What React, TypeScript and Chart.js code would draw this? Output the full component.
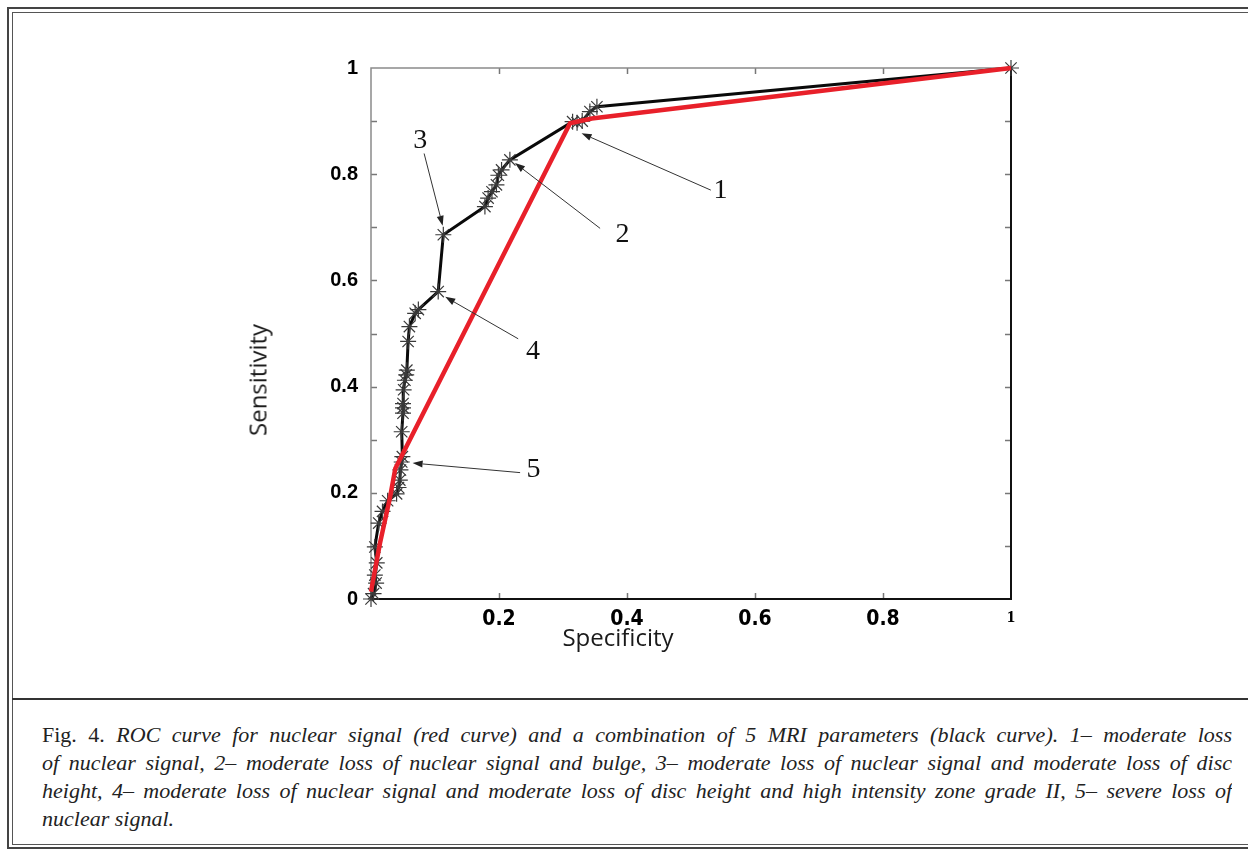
import React, { useEffect, useRef } from 'react';
import { Chart, registerables } from 'chart.js';

Chart.register(...registerables);

// ---- data ----
const BLACK_X = [0.0, 0.004, 0.008, 0.006, 0.009, 0.006, 0.012, 0.018, 0.026, 0.040, 0.043, 0.045, 0.046, 0.048, 0.049, 0.048, 0.050, 0.050, 0.050, 0.051, 0.053, 0.055, 0.056, 0.058, 0.060, 0.069, 0.074, 0.105, 0.113, 0.178, 0.183, 0.189, 0.196, 0.199, 0.204, 0.217, 0.315, 0.322, 0.330, 0.342, 0.353, 1.0];
const BLACK_Y = [0.0, 0.010, 0.030, 0.045, 0.068, 0.098, 0.143, 0.165, 0.185, 0.198, 0.210, 0.224, 0.243, 0.258, 0.268, 0.315, 0.350, 0.360, 0.368, 0.394, 0.412, 0.422, 0.431, 0.485, 0.513, 0.538, 0.545, 0.579, 0.686, 0.739, 0.755, 0.767, 0.780, 0.798, 0.808, 0.827, 0.899, 0.897, 0.900, 0.918, 0.927, 1.0];

const RED_X = [0.0, 0.014, 0.030, 0.038, 0.311, 0.345, 1.0];
const RED_Y = [0.014, 0.105, 0.193, 0.246, 0.896, 0.905, 1.0];

const X_TICK_VALUES = [0.2, 0.4, 0.6, 0.8, 1];
const X_TICK_LABELS = ['0.2', '0.4', '0.6', '0.8', '1'];
const Y_TICK_VALUES = [0, 0.2, 0.4, 0.6, 0.8, 1];
const Y_TICK_LABELS = ['0', '0.2', '0.4', '0.6', '0.8', '1'];

const ANNOT_LABELS = ['1', '2', '3', '4', '5'];
const ANNOT_TEXT_X = [0.546, 0.393, 0.077, 0.253, 0.254];
const ANNOT_TEXT_Y = [0.769, 0.686, 0.863, 0.466, 0.243];
const ANNOT_FROM_X = [0.531, 0.358, 0.083, 0.230, 0.233];
const ANNOT_FROM_Y = [0.770, 0.698, 0.839, 0.490, 0.238];
const ANNOT_TIP_X = [0.329, 0.225, 0.112, 0.116, 0.065];
const ANNOT_TIP_Y = [0.877, 0.821, 0.703, 0.569, 0.256];

const CAPTION_LINES = [
  'ROC curve for nuclear signal (red curve) and a combination of 5 MRI parameters (black curve). 1– moderate loss',
  'of nuclear signal, 2– moderate loss of nuclear signal and bulge, 3– moderate loss of nuclear signal and moderate loss of disc',
  'height, 4– moderate loss of nuclear signal and moderate loss of disc height and high intensity zone grade II, 5– severe loss of',
  'nuclear signal.',
];

const findLabel = (vals: number[], labels: string[], v: number) => {
  for (let i = 0; i < vals.length; i++) if (Math.abs(vals[i] - v) < 1e-6) return labels[i];
  return '';
};

const framePlugin = {
  id: 'frame',
  beforeDatasetsDraw(chart: any) {
    const { ctx, chartArea: a, scales } = chart;
    const xs = scales.x;
    const ys = scales.y;
    ctx.save();
    ctx.strokeStyle = '#777';
    ctx.lineWidth = 1.5;
    ys.ticks.forEach((t: any) => {
      const py = Math.round(ys.getPixelForValue(t.value)) + 0.5;
      if (t.value <= 0 || t.value >= 1) return;
      ctx.beginPath();
      ctx.moveTo(a.left, py); ctx.lineTo(a.left + 6, py);
      ctx.moveTo(a.right, py); ctx.lineTo(a.right - 6, py);
      ctx.stroke();
    });
    xs.ticks.forEach((t: any) => {
      if (t.value <= 0 || t.value >= 1) return;
      const px = Math.round(xs.getPixelForValue(t.value)) + 0.5;
      ctx.beginPath();
      ctx.moveTo(px, a.bottom); ctx.lineTo(px, a.bottom - 6);
      ctx.moveTo(px, a.top); ctx.lineTo(px, a.top + 6);
      ctx.stroke();
    });
    // frame
    ctx.strokeStyle = '#8a8a8a';
    ctx.lineWidth = 1.5;
    ctx.beginPath();
    ctx.moveTo(a.left, a.bottom); ctx.lineTo(a.left, a.top); ctx.lineTo(a.right, a.top);
    ctx.stroke();
    ctx.strokeStyle = '#111';
    ctx.lineWidth = 2;
    ctx.beginPath();
    ctx.moveTo(a.left, a.bottom); ctx.lineTo(a.right, a.bottom); ctx.lineTo(a.right, a.top);
    ctx.stroke();
    ctx.restore();
  },
  afterDatasetsDraw(chart: any) {
    const { ctx, scales } = chart;
    const xs = scales.x;
    const ys = scales.y;
    ctx.save();
    for (let i = 0; i < ANNOT_LABELS.length; i++) {
      const fx = xs.getPixelForValue(ANNOT_FROM_X[i]);
      const fy = ys.getPixelForValue(ANNOT_FROM_Y[i]);
      const tx = xs.getPixelForValue(ANNOT_TIP_X[i]);
      const ty = ys.getPixelForValue(ANNOT_TIP_Y[i]);
      const ang = Math.atan2(ty - fy, tx - fx);
      const hl = 10, hw = 3.5;
      const bx = tx - hl * Math.cos(ang);
      const by = ty - hl * Math.sin(ang);
      ctx.strokeStyle = '#333';
      ctx.fillStyle = '#222';
      ctx.lineWidth = 1;
      ctx.beginPath();
      ctx.moveTo(fx, fy); ctx.lineTo(bx, by);
      ctx.stroke();
      ctx.beginPath();
      ctx.moveTo(tx, ty);
      ctx.lineTo(bx + hw * Math.sin(ang), by - hw * Math.cos(ang));
      ctx.lineTo(bx - hw * Math.sin(ang), by + hw * Math.cos(ang));
      ctx.closePath();
      ctx.fill();
      ctx.font = '28px "Liberation Serif", "Times New Roman", serif';
      ctx.fillStyle = '#111';
      ctx.textAlign = 'center';
      ctx.textBaseline = 'middle';
      ctx.fillText(ANNOT_LABELS[i], xs.getPixelForValue(ANNOT_TEXT_X[i]), ys.getPixelForValue(ANNOT_TEXT_Y[i]));
    }
    ctx.restore();
  },
};

function RocChart() {
  const ref = useRef<HTMLCanvasElement | null>(null);
  useEffect(() => {
    if (!ref.current) return;
    const chart = new Chart(ref.current, {
      type: 'scatter',
      data: {
        datasets: [
          {
            label: 'Nuclear signal',
            data: RED_X.map((x, i) => ({ x, y: RED_Y[i] })),
            showLine: true,
            borderColor: '#e8202a',
            borderWidth: 4.5,
            pointRadius: 0,
            clip: false,
          } as any,
          {
            label: '5 MRI parameters',
            data: BLACK_X.map((x, i) => ({ x, y: BLACK_Y[i] })),
            showLine: true,
            borderColor: '#0a0a0a',
            borderWidth: 3,
            pointStyle: 'star',
            pointRadius: 8,
            pointBorderWidth: 1.2,
            pointBorderColor: '#3a3a3a',
            pointBackgroundColor: '#3a3a3a',
            clip: false,
          } as any,
        ],
      },
      options: {
        animation: false,
        responsive: false,
        devicePixelRatio: 1,
        layout: { padding: { left: 200, right: 237, top: 68, bottom: 41 } },
        plugins: { legend: { display: false }, tooltip: { enabled: false } },
        scales: {
          x: {
            type: 'linear',
            min: 0,
            max: 1,
            grid: { display: false },
            border: { display: false },
            afterFit: (s: any) => { s.height = 60; },
            ticks: {
              stepSize: 0.2,
              padding: 0,
              maxRotation: 0,
              color: '#000',
              autoSkip: false,
              callback: (v: any) => findLabel(X_TICK_VALUES, X_TICK_LABELS, Number(v)),
              font: (c: any) =>
                c.tick && Math.abs(c.tick.value - 1) < 1e-6
                  ? { family: '"Liberation Serif", serif', size: 17, weight: 'bold' }
                  : { family: '"Liberation Sans Narrow", "DejaVu Sans Condensed", "Liberation Sans", sans-serif', size: 21, weight: 'bold' },
            },
          },
          y: {
            type: 'linear',
            min: 0,
            max: 1,
            grid: { display: false },
            border: { display: false },
            afterFit: (s: any) => { s.width = 171; },
            ticks: {
              stepSize: 0.1,
              padding: 5,
              color: '#000',
              autoSkip: false,
              callback: (v: any) => findLabel(Y_TICK_VALUES, Y_TICK_LABELS, Number(v)),
              font: { family: '"Liberation Sans", Arial, sans-serif', size: 20, weight: 'bold' },
            },
          },
        },
      } as any,
      plugins: [framePlugin],
    });
    return () => chart.destroy();
  }, []);
  return <canvas ref={ref} width={1248} height={700} style={{ position: 'absolute', left: 0, top: 0, width: 1248, height: 700 }} />;
}

export default function App() {
  const lineStyle: React.CSSProperties = {
    textAlign: 'justify',
    textAlignLast: 'justify' as any,
    whiteSpace: 'normal',
    height: 28,
    lineHeight: '28px',
    overflow: 'hidden',
  };
  return (
    <div style={{ position: 'fixed', left: 0, top: 0, width: 1248, height: 849, background: '#fff', overflow: 'hidden' }}>
      {/* outer and inner frames */}
      <div style={{ position: 'absolute', left: 7, top: 7, width: 1400, height: 838, border: '2px solid #444' }} />
      <div style={{ position: 'absolute', left: 12, top: 12, width: 1400, height: 831, border: '1px solid #555' }} />
      <div style={{ position: 'absolute', left: 12, top: 698, width: 1400, height: 0, borderTop: '2.5px solid #333' }} />
      <RocChart />
      <div style={{ position: 'absolute', left: 257, top: 380, transform: 'translate(-50%, -50%) rotate(-90deg)', fontFamily: '"Open Sans", sans-serif', fontSize: 24, color: '#1a1a1a', whiteSpace: 'nowrap' }}>Sensitivity</div>
      <div style={{ position: 'absolute', left: 618, top: 636, transform: 'translate(-50%, -50%)', fontFamily: '"Open Sans", sans-serif', fontSize: 24, color: '#1a1a1a', whiteSpace: 'nowrap' }}>Specificity</div>
      <div style={{ position: 'absolute', left: 42, top: 721, width: 1190, fontFamily: '"Liberation Serif", "Times New Roman", serif', fontSize: 22, color: '#222' }}>
        <div style={lineStyle}><span style={{ fontStyle: 'normal' }}>Fig. 4. </span><i>{CAPTION_LINES[0]}</i></div>
        <div style={lineStyle}><i>{CAPTION_LINES[1]}</i></div>
        <div style={lineStyle}><i>{CAPTION_LINES[2]}</i></div>
        <div style={{ ...lineStyle, textAlignLast: 'left' as any }}><i>{CAPTION_LINES[3]}</i></div>
      </div>
    </div>
  );
}
